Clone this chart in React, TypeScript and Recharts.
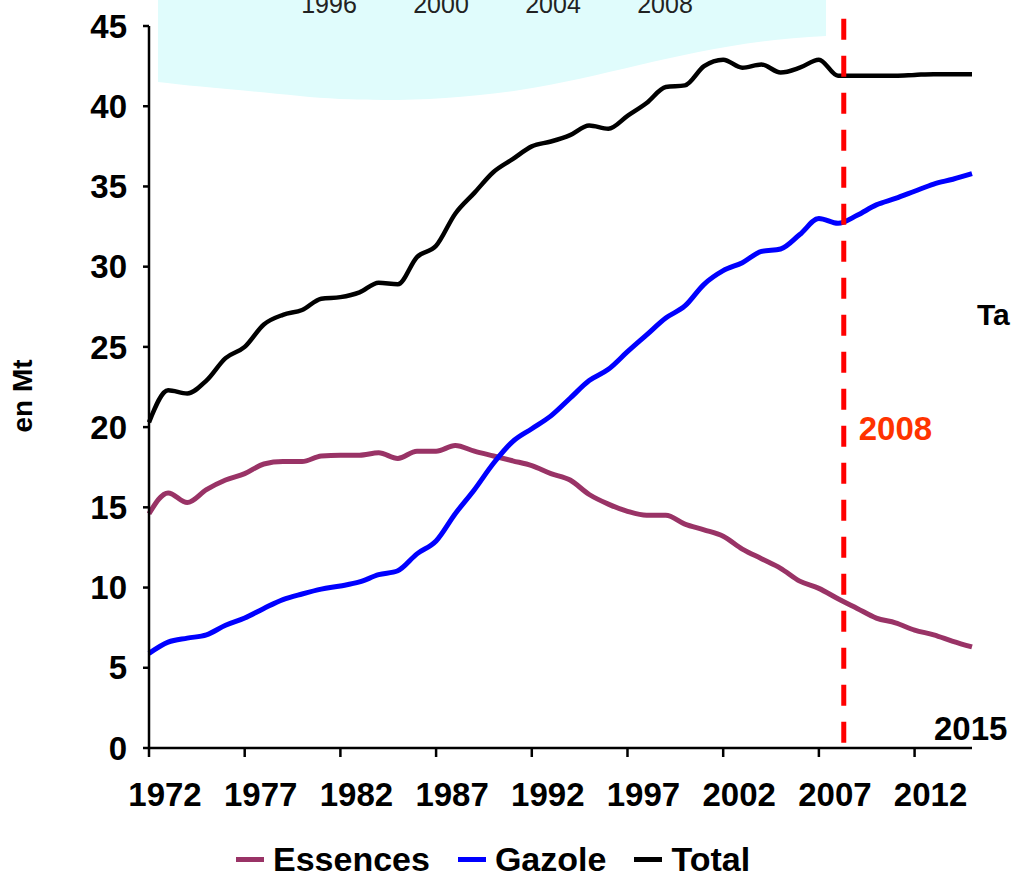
import React from "react";
import {
  LineChart,
  Line,
  XAxis,
  YAxis,
  Legend,
  ReferenceLine,
} from "recharts";

const years = [
  1972, 1973, 1974, 1975, 1976, 1977, 1978, 1979, 1980, 1981, 1982, 1983,
  1984, 1985, 1986, 1987, 1988, 1989, 1990, 1991, 1992, 1993, 1994, 1995,
  1996, 1997, 1998, 1999, 2000, 2001, 2002, 2003, 2004, 2005, 2006, 2007,
  2008, 2009, 2010, 2011, 2012, 2013, 2014, 2015,
];

const essences = [
  14.6, 15.9, 15.3, 16.1, 16.7, 17.1, 17.7, 17.85, 17.85, 18.2, 18.25, 18.25,
  18.4, 18.05, 18.5, 18.5, 18.85, 18.5, 18.2, 17.9, 17.6, 17.1, 16.7, 15.8,
  15.2, 14.75, 14.5, 14.5, 13.95, 13.6, 13.2, 12.4, 11.8, 11.2, 10.4, 9.95,
  9.3, 8.7, 8.1, 7.8, 7.35, 7.05, 6.65, 6.3,
];

const gazole = [
  5.9, 6.6, 6.85, 7.05, 7.65, 8.1, 8.7, 9.25, 9.6, 9.9, 10.1, 10.35,
  10.8, 11.05, 12.1, 12.9, 14.6, 16.1, 17.75, 19.1, 19.9, 20.7, 21.8, 22.9,
  23.6, 24.7, 25.75, 26.8, 27.55, 28.9, 29.75, 30.25, 30.95, 31.1, 32.0, 33.0,
  32.7, 33.2, 33.85, 34.25, 34.7, 35.15, 35.45, 35.8,
];

const total = [
  20.3, 22.3, 22.1, 22.9, 24.3, 25.0, 26.4, 27.0, 27.3, 28.0, 28.1, 28.4,
  29.0, 28.9, 30.6, 31.3, 33.3, 34.6, 35.9, 36.7, 37.5, 37.8, 38.2, 38.8,
  38.6, 39.4, 40.2, 41.2, 41.3, 42.5, 42.9, 42.4, 42.6, 42.1, 42.4, 42.9,
  41.9, 41.9, 41.9, 41.9, 41.95, 42.0, 42.0, 42.0,
];

const xTicks = [1972, 1977, 1982, 1987, 1992, 1997, 2002, 2007, 2012];
const yTicks = [0, 5, 10, 15, 20, 25, 30, 35, 40, 45];
const bgYears = ["1996", "2000", "2004", "2008"];
const markerYear = 2008.3;

const data = years.map((year, i) => ({
  year,
  essences: essences[i],
  gazole: gazole[i],
  total: total[i],
}));

const FONT = '"Liberation Sans", Arial, sans-serif';

const XTick = (props: any) => (
  <text
    x={props.x + 16}
    y={props.y}
    dy="0.71em"
    textAnchor="middle"
    fontFamily={FONT}
    fontWeight="bold"
    fontSize={33}
    fill="#000"
  >
    {props.payload.value}
  </text>
);

const LegendContent = (props: any) => (
  <div style={{ display: "flex", alignItems: "center", fontFamily: FONT }}>
    {(props.payload || []).map((p: any) => (
      <div
        key={p.value}
        style={{ display: "flex", alignItems: "center", marginRight: 28 }}
      >
        <div
          style={{ width: 28, height: 5, background: p.color, marginRight: 9 }}
        />
        <span style={{ fontSize: 34, fontWeight: "bold", color: "#000" }}>
          {p.value}
        </span>
      </div>
    ))}
  </div>
);

export default function App() {
  return (
    <div
      style={{
        position: "absolute",
        left: 0,
        top: 0,
        width: 1013,
        height: 875,
        background: "#fff",
        overflow: "hidden",
      }}
    >
      <svg
        width={1013}
        height={875}
        style={{ position: "absolute", left: 0, top: 0 }}
      >
        <path
          d="M158,0 L826,0 L826,36 C700,42 620,75 520,90 C440,102 360,102 300,96 C240,90 190,86 158,82 Z"
          fill="#e0fcfc"
        />
        {bgYears.map((t, i) => (
          <text
            key={t}
            x={329 + i * 112}
            y={13}
            textAnchor="middle"
            fontFamily={FONT}
            fontSize={25}
            fill="#222"
          >
            {t}
          </text>
        ))}
        <text x={977} y={325} fontFamily={FONT} fontWeight="bold" fontSize={30} fill="#000">
          Ta
        </text>
        <text x={934} y={740} fontFamily={FONT} fontWeight="bold" fontSize={33} fill="#000">
          2015
        </text>
      </svg>
      <div style={{ position: "absolute", left: 0, top: 0 }}>
        <LineChart
          width={1013}
          height={875}
          data={data}
          margin={{ top: 26, right: 41, left: 0, bottom: 0 }}
        >
          <XAxis
            dataKey="year"
            type="number"
            domain={[1972, 2015]}
            ticks={xTicks}
            height={127}
            stroke="#000"
            strokeWidth={2.5}
            tickSize={9}
            tickMargin={26}
            tick={<XTick />}
            tickLine={{ stroke: "#000", strokeWidth: 2.5 }}
          />
          <YAxis
            type="number"
            domain={[0, 45]}
            ticks={yTicks}
            width={149}
            stroke="#000"
            strokeWidth={2.5}
            tickSize={6}
            tickMargin={16}
            tick={{
              fill: "#000",
              fontSize: 33,
              fontWeight: "bold",
              fontFamily: FONT,
            }}
            label={{
              content: () => (
                <text
                  x={22}
                  y={396}
                  transform="rotate(-90 22 396)"
                  textAnchor="middle"
                  dominantBaseline="central"
                  fontFamily={FONT}
                  fontWeight="bold"
                  fontSize={28}
                  fill="#000"
                >
                  en Mt
                </text>
              ),
            }}
          />
          <Line
            type="monotone"
            dataKey="essences"
            name="Essences"
            stroke="#993366"
            strokeWidth={5}
            dot={false}
            isAnimationActive={false}
          />
          <Line
            type="monotone"
            dataKey="gazole"
            name="Gazole"
            stroke="#0000ff"
            strokeWidth={5}
            dot={false}
            isAnimationActive={false}
          />
          <Line
            type="monotone"
            dataKey="total"
            name="Total"
            stroke="#000000"
            strokeWidth={4.5}
            dot={false}
            isAnimationActive={false}
          />
          <ReferenceLine
            segment={[
              { x: markerYear, y: 45.45 },
              { x: markerYear, y: 0 },
            ]}
            ifOverflow="visible"
            stroke="#ff0000"
            strokeWidth={5}
            strokeDasharray="21 16"
            label={{
              content: (p: any) => (
                <text
                  x={(p.viewBox?.x ?? 843) + 15}
                  y={440}
                  fontFamily={FONT}
                  fontWeight="bold"
                  fontSize={33}
                  fill="#ff3300"
                >
                  2008
                </text>
              ),
            }}
          />
          <Legend
            layout="horizontal"
            verticalAlign="middle"
            align="center"
            content={<LegendContent />}
            wrapperStyle={{ top: 840, left: 236, width: "auto" }}
          />
        </LineChart>
      </div>
    </div>
  );
}
